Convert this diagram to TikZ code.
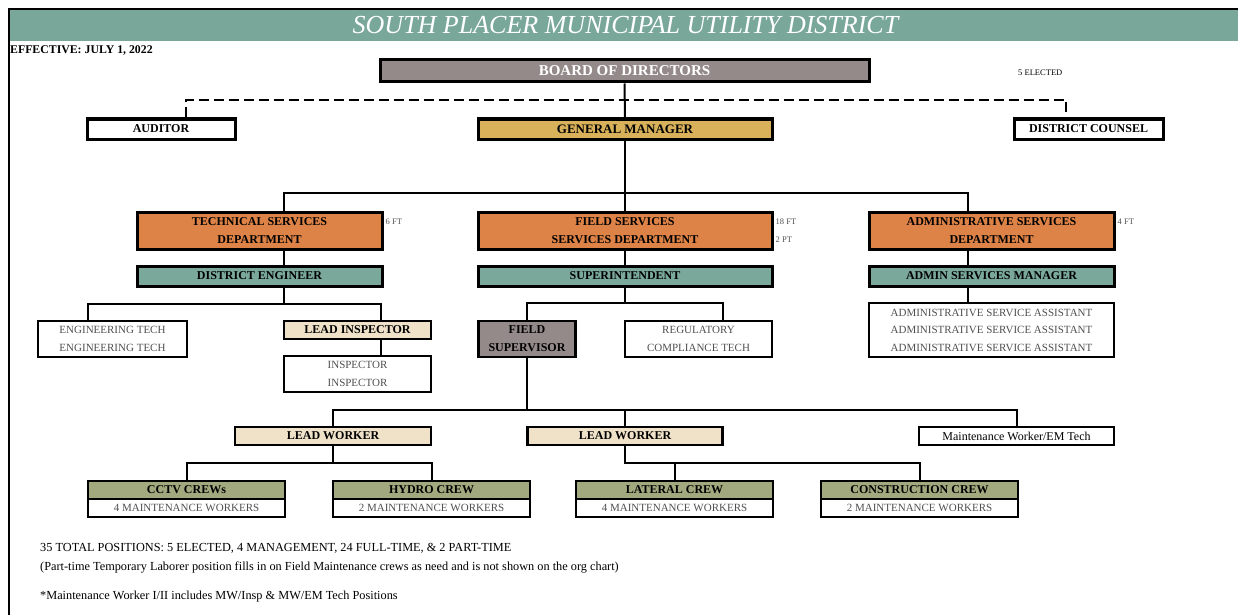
\documentclass[tikz,border=0pt]{standalone}
\usepackage{fontspec}
\setmainfont{Liberation Serif}
\usepackage{tikz}
\definecolor{hdrteal}{HTML}{79A89A}
\definecolor{boardgray}{HTML}{958A8A}
\definecolor{gmgold}{HTML}{D8B15A}
\definecolor{deptorange}{HTML}{DE8347}
\definecolor{mgrteal}{HTML}{7AA89B}
\definecolor{leadbeige}{HTML}{EFE2C9}
\definecolor{crewolive}{HTML}{A2A97F}
\definecolor{softtext}{HTML}{505050}

\begin{document}
\begin{tikzpicture}[x=1pt, y=-1pt,
link/.style={draw=black, line width=2pt},
block/.style={draw=black, line width=3pt, fill=white, rectangle, inner sep=0pt, minimum height=20pt, align=center, font=\fontsize{12}{18}\selectfont\bfseries},
staff/.style={draw=black, line width=1.5pt, fill=white, rectangle, inner sep=0pt, align=center, text=softtext, font=\fontsize{11}{17.5}\selectfont},
crew/.style={block, line width=2.3pt, fill=crewolive, minimum width=197pt, minimum height=18pt},
crewsub/.style={staff, line width=2.3pt, minimum width=197pt, minimum height=18pt},
tag/.style={inner sep=0pt, anchor=west, text=softtext, font=\fontsize{8.5}{9}\selectfont},
note/.style={inner sep=0pt, anchor=west, font=\fontsize{12.3}{14}\selectfont}]

\useasboundingbox (0,0) rectangle (1238,615);

\fill[hdrteal] (10,10) rectangle (1238,41);
\draw[line width=2.5pt] (9,615) -- (9,9) -- (1238,9);
\node[inner sep=0pt, text=white, font=\fontsize{26}{28}\selectfont\itshape] (title) at (625.5,25) {SOUTH PLACER MUNICIPAL UTILITY DISTRICT};
\node[note, font=\fontsize{11.8}{13}\selectfont\bfseries] (eff) at (10,50) {EFFECTIVE: JULY 1, 2022};

\node[block, fill=boardgray, text=white, minimum width=489pt, minimum height=22pt, font=\fontsize{15}{18}\selectfont\bfseries] (board) at (624.5,71) {BOARD OF DIRECTORS};
\node[tag, text=black] (elected) at (1018,73) {5 ELECTED};

\node[block, minimum width=148pt] (aud) at (161,129) {AUDITOR};
\node[block, fill=gmgold, minimum width=294pt, font=\fontsize{13}{18}\selectfont\bfseries] (gm) at (625,129) {GENERAL MANAGER};
\node[block, minimum width=149pt] (counsel) at (1088.5,129) {DISTRICT COUNSEL};

\node[block, fill=deptorange, minimum width=245pt, minimum height=37pt] (tech) at (259.5,230.5) {TECHNICAL SERVICES\\DEPARTMENT};
\node[block, fill=deptorange, minimum width=294pt, minimum height=37pt] (field) at (625,230.5) {FIELD SERVICES\\SERVICES DEPARTMENT};
\node[block, fill=deptorange, minimum width=245pt, minimum height=37pt] (admin) at (991.5,230.5) {ADMINISTRATIVE SERVICES\\DEPARTMENT};
\node[tag] (techft) at ([xshift=2pt]tech.east |- 0,222) {6 FT};
\node[tag] (fieldft) at ([xshift=2pt]field.east |- 0,222) {18 FT};
\node[tag] (fieldpt) at ([xshift=2pt]field.east |- 0,240) {2 PT};
\node[tag] (adminft) at ([xshift=2pt]admin.east |- 0,222) {4 FT};

\node[block, fill=mgrteal, minimum width=245pt] (de) at (259.5,276) {DISTRICT ENGINEER};
\node[block, fill=mgrteal, minimum width=294pt] (supt) at (625,276) {SUPERINTENDENT};
\node[block, fill=mgrteal, minimum width=245pt] (asm) at (991.5,276) {ADMIN SERVICES MANAGER};

\node[staff, minimum width=149pt, minimum height=36pt] (engtech) at (112.5,339) {ENGINEERING TECH\\ENGINEERING TECH};
\node[block, line width=2.3pt, fill=leadbeige, minimum width=147pt, minimum height=18pt] (leadins) at (357.5,330) {LEAD INSPECTOR};
\node[staff, minimum width=147pt, minimum height=36pt] (insp) at (357.5,374) {INSPECTOR\\INSPECTOR};
\node[block, line width=2.3pt, fill=boardgray, minimum width=97pt, minimum height=36pt] (fsup) at (527,339) {FIELD\\SUPERVISOR};
\node[staff, minimum width=147pt, minimum height=36pt] (reg) at (698.5,339) {REGULATORY\\COMPLIANCE TECH};
\node[staff, minimum width=245pt, minimum height=54pt] (assist) at (991.5,330) {ADMINISTRATIVE SERVICE ASSISTANT\\ADMINISTRATIVE SERVICE ASSISTANT\\ADMINISTRATIVE SERVICE ASSISTANT};

\node[block, line width=2.3pt, fill=leadbeige, minimum width=196pt, minimum height=18pt] (lw1) at (333,436) {LEAD WORKER};
\node[block, line width=2.3pt, fill=leadbeige, minimum width=195pt, minimum height=18pt] (lw2) at (625,436) {LEAD WORKER};
\node[staff, line width=2.3pt, text=black, minimum width=195pt, minimum height=18pt, font=\fontsize{12}{14}\selectfont] (mwem) at (1016.5,436) {Maintenance Worker/EM Tech};

\node[crew] (cctv) at (186.5,490) {CCTV CREWs};
\node[crewsub] (cctvw) at (186.5,508) {4 MAINTENANCE WORKERS};
\node[crew] (hydro) at (431.5,490) {HYDRO CREW};
\node[crewsub] (hydrow) at (431.5,508) {2 MAINTENANCE WORKERS};
\node[crew] (lat) at (674.5,490) {LATERAL CREW};
\node[crewsub] (latw) at (674.5,508) {4 MAINTENANCE WORKERS};
\node[crew] (cons) at (919.5,490) {CONSTRUCTION CREW};
\node[crewsub] (consw) at (919.5,508) {2 MAINTENANCE WORKERS};

\node[note] (tot) at (40,548) {35 TOTAL POSITIONS: 5 ELECTED, 4 MANAGEMENT, 24 FULL-TIME, \& 2 PART-TIME};
\node[note] (temp) at (40,567) {(Part-time Temporary Laborer position fills in on Field Maintenance crews as need and is not shown on the org chart)};
\node[note] (mw) at (40,597) {*Maintenance Worker I/II includes MW/Insp \& MW/EM Tech Positions};

\coordinate (dl) at (186,100);
\coordinate (dr) at (1066,100);
\coordinate (tl) at (284,193);
\coordinate (tr) at (968,193);
\coordinate (ebl) at (88,304);
\coordinate (ebr) at (381,304);
\coordinate (sbl) at (527,303);
\coordinate (sbr) at (723,303);
\coordinate (mbl) at (333,410);
\coordinate (mbr) at (1016.5,410);
\coordinate (cb) at (0,463);

\draw[link, line width=2.8pt, dash pattern=on 10pt off 5pt] (dl |- aud.north) -- (dl) -- (dr) -- (dr |- counsel.north);
\draw[link] (board.south) -- (gm.north);
\draw[link] (gm.south) -- (gm.south |- tl);
\draw[link] (tl |- tech.north) -- (tl) -- (tr) -- (tr |- admin.north);
\draw[link] (field.north) -- (field.north |- tl);

\draw[link] (tl |- tech.south) -- (tl |- de.north);
\draw[link] (field.south) -- (supt.north);
\draw[link] (tr |- admin.south) -- (tr |- asm.north);

\draw[link] (tl |- de.south) -- (tl |- ebl);
\draw[link] (ebl |- engtech.north) -- (ebl) -- (ebr) -- (ebr |- leadins.north);
\draw[link] (ebr |- leadins.south) -- (ebr |- insp.north);
\draw[link] (supt.south) -- (supt.south |- sbl);
\draw[link] (fsup.north) -- (sbl) -- (sbr) -- (sbr |- reg.north);
\draw[link] (tr |- asm.south) -- (tr |- assist.north);

\draw[link] (fsup.south) -- (fsup.south |- mbl);
\draw[link] (lw1.north) -- (mbl) -- (mbr) -- (mwem.north);
\draw[link] (lw2.north) -- (lw2.north |- mbl);

\draw[link] (lw1.south) -- (lw1.south |- cb);
\draw[link] (cctv.north) -- (cctv.north |- cb) -- (hydro.north |- cb) -- (hydro.north);
\draw[link] (lw2.south) -- (lw2.south |- cb) -- (cons.north |- cb) -- (cons.north);
\draw[link] (lat.north) -- (lat.north |- cb);

\end{tikzpicture}
\end{document}
